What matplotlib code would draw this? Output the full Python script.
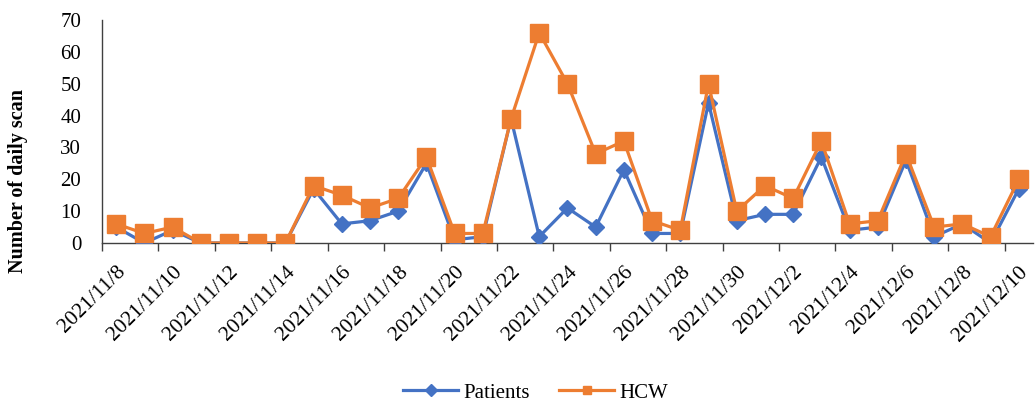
import numpy as np
import matplotlib
matplotlib.use('Agg')
import matplotlib.pyplot as plt
import pandas as pd

# ── Data ─────────────────────────────────────────────────────────────────────
dates = pd.date_range("2021-11-08", "2021-12-10", freq="D")
patients = [5, 0, 4, 0, 0, 0, 0, 17, 6, 7, 10, 25, 1, 2, 39, 2, 11, 5, 23, 3, 3,
            44, 7, 9, 9, 27, 4, 5, 26, 2, 6, 0, 17]
hcw = [6, 3, 5, 0, 0, 0, 0, 18, 15, 11, 14, 27, 3, 3, 39, 66, 50, 28, 32, 7, 4,
       50, 10, 18, 14, 32, 6, 7, 28, 5, 6, 2, 20]
date_labels = [f"{d.year}/{d.month}/{d.day}" for d in dates]

plt.rcParams['font.family'] = ['Liberation Serif', 'DejaVu Serif']

fig = plt.figure(figsize=(10.36, 4.01), dpi=100)
ax = fig.add_axes([0.0985, 0.394, 0.8985, 0.556])

x = np.arange(len(dates))
ax.plot(x, patients, color='#4472C4', linewidth=2.3, marker='D',
        markersize=8, label='Patients', zorder=3)
ax.plot(x, hcw, color='#ED7D31', linewidth=2.3, marker='s',
        markersize=12.5, label='HCW', zorder=4)

ax.set_xlim(-0.5, len(dates) - 0.5)
ax.set_ylim(0, 70)
ax.set_yticks(range(0, 71, 10))

# labels at every other category centre, tick marks at category boundaries
ax.set_xticks(x[::2])
ax.set_xticklabels(date_labels[::2], rotation=45, ha='right',
                   rotation_mode='anchor', fontsize=15.5)
ax.set_xticks(np.arange(-0.5, len(dates), 2), minor=True)
ax.tick_params(axis='x', which='major', length=0, pad=14)
ax.tick_params(axis='x', which='minor', length=6, width=1, color='#404040')
ax.tick_params(axis='y', length=0, labelsize=15, pad=15)

for s in ['top', 'right']:
    ax.spines[s].set_visible(False)
for s in ['left', 'bottom']:
    ax.spines[s].set_color('#404040')
    ax.spines[s].set_linewidth(1)

ax.set_ylabel("Number of daily scan", fontsize=14.5, fontweight='bold')
ax.yaxis.set_label_coords(-0.08, 0.28)

leg = fig.legend(loc='lower center', bbox_to_anchor=(0.517, -0.035), ncol=2,
                 frameon=False, fontsize=15, handlelength=2.65,
                 handletextpad=0.25, columnspacing=1.4, borderaxespad=0.2)
for h in leg.legend_handles:
    h.set_markersize(6)

fig.savefig("out.png", dpi=100)
